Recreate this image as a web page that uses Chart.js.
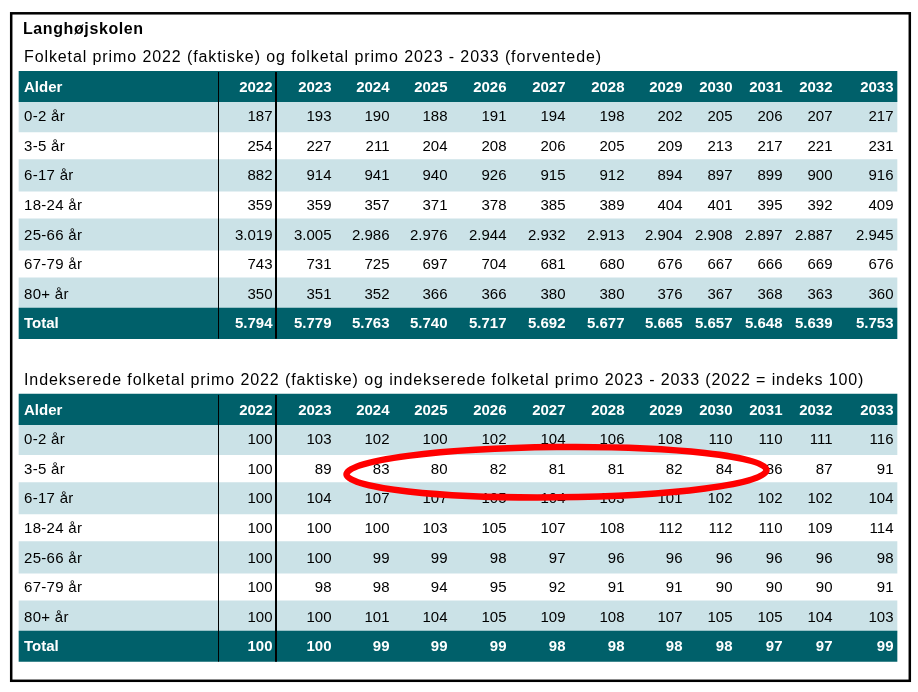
<!DOCTYPE html>
<html>
<head>
<meta charset="utf-8">
<script src="https://cdn.jsdelivr.net/npm/chart.js@4.4.1/dist/chart.umd.min.js"></script>
<style>
  html, body { margin: 0; padding: 0; background: #fff; }
  #box { position: relative; width: 918px; height: 692px; }
</style>
</head>
<body>
<div id="box"><canvas id="ctx" width="918" height="692"></canvas></div>
<script>
'use strict';

// ---- data ----
const schoolName = 'Langhøjskolen';
const title1 = 'Folketal primo 2022 (faktiske) og folketal primo 2023 - 2033 (forventede)';
const title2 = 'Indekserede folketal primo 2022 (faktiske) og indekserede folketal primo 2023 - 2033 (2022 = indeks 100)';
const headLabel = 'Alder';
const ageGroups = ['0-2 år', '3-5 år', '6-17 år', '18-24 år', '25-66 år', '67-79 år', '80+ år', 'Total'];
const years = ['2022', '2023', '2024', '2025', '2026', '2027', '2028', '2029', '2030', '2031', '2032', '2033'];

const pop0_2   = [187, 193, 190, 188, 191, 194, 198, 202, 205, 206, 207, 217];
const pop3_5   = [254, 227, 211, 204, 208, 206, 205, 209, 213, 217, 221, 231];
const pop6_17  = [882, 914, 941, 940, 926, 915, 912, 894, 897, 899, 900, 916];
const pop18_24 = [359, 359, 357, 371, 378, 385, 389, 404, 401, 395, 392, 409];
const pop25_66 = [3019, 3005, 2986, 2976, 2944, 2932, 2913, 2904, 2908, 2897, 2887, 2945];
const pop67_79 = [743, 731, 725, 697, 704, 681, 680, 676, 667, 666, 669, 676];
const pop80    = [350, 351, 352, 366, 366, 380, 380, 376, 367, 368, 363, 360];
const popTotal = [5794, 5779, 5763, 5740, 5717, 5692, 5677, 5665, 5657, 5648, 5639, 5753];

const idx0_2   = [100, 103, 102, 100, 102, 104, 106, 108, 110, 110, 111, 116];
const idx3_5   = [100, 89, 83, 80, 82, 81, 81, 82, 84, 86, 87, 91];
const idx6_17  = [100, 104, 107, 107, 105, 104, 103, 101, 102, 102, 102, 104];
const idx18_24 = [100, 100, 100, 103, 105, 107, 108, 112, 112, 110, 109, 114];
const idx25_66 = [100, 100, 99, 99, 98, 97, 96, 96, 96, 96, 96, 98];
const idx67_79 = [100, 98, 98, 94, 95, 92, 91, 91, 90, 90, 90, 91];
const idx80    = [100, 100, 101, 104, 105, 109, 108, 107, 105, 105, 104, 103];
const idxTotal = [100, 100, 99, 99, 99, 98, 98, 98, 98, 97, 97, 99];

const popRows = [pop0_2, pop3_5, pop6_17, pop18_24, pop25_66, pop67_79, pop80, popTotal];
const idxRows = [idx0_2, idx3_5, idx6_17, idx18_24, idx25_66, idx67_79, idx80, idxTotal];

// ---- layout (x in table units from the table's left edge, y in rows) ----
const colEdges = [0, 199, 257, 316, 374, 432, 491, 550, 609, 667, 717, 767, 817, 878];
const tableLeft = 19;
const rowPx = 29.6;
const firstRowPx = 86.5;
const table1Top = 0;
const table2Top = 10.91;

const DARK = '#00606a';
const LIGHT = '#cbe2e7';
const FONT = '"Liberation Sans", Arial, Helvetica, sans-serif';

function fmt(n) {
  return String(n).replace(/\B(?=(\d{3})+(?!\d))/g, '.');
}

// background bands for every row, built from the table positions
function bands(top, which) {
  const out = [];
  const tableWidth = colEdges[colEdges.length - 1];
  if (which === 'dark') {
    out.push({x: [0, tableWidth], y: top});
    out.push({x: [0, tableWidth], y: top + ageGroups.length});
  } else {
    for (let i = 0; i < ageGroups.length - 1; i += 2) {
      out.push({x: [0, tableWidth], y: top + 1 + i});
    }
  }
  return out;
}

const tablePlugin = {
  id: 'tableText',
  beforeDraw(chart) {
    const ctx = chart.ctx;
    ctx.save();
    ctx.strokeStyle = '#000';
    ctx.lineWidth = 2.5;
    ctx.strokeRect(11.2, 13.3, 898.6, 667.5);
    ctx.restore();
  },
  afterDatasetsDraw(chart) {
    const {ctx, scales: {x, y}} = chart;
    ctx.save();

    const drawTable = (top, subtitle, rows) => {
      // column dividers
      ctx.strokeStyle = '#000';
      const yTop = y.getPixelForValue(top - 0.49);
      const yBot = y.getPixelForValue(top + ageGroups.length + 0.52);
      [[colEdges[1], 1], [colEdges[2], 2]].forEach(([edge, w]) => {
        const px = Math.round(x.getPixelForValue(edge)) + (w === 1 ? 0.5 : 0);
        ctx.lineWidth = w;
        ctx.beginPath();
        ctx.moveTo(px, yTop);
        ctx.lineTo(px, yBot);
        ctx.stroke();
      });

      ctx.textBaseline = 'middle';
      // subtitle
      ctx.fillStyle = '#000';
      ctx.textAlign = 'left';
      ctx.font = '16px ' + FONT;
      ctx.letterSpacing = '0.9px';
      ctx.fillText(subtitle, x.getPixelForValue(5), y.getPixelForValue(top - 0.96));
      ctx.letterSpacing = '0px';

      // header row
      ctx.fillStyle = '#fff';
      ctx.font = 'bold 15px ' + FONT;
      const hy = y.getPixelForValue(top) + 1;
      ctx.fillText(headLabel, x.getPixelForValue(5), hy);
      ctx.textAlign = 'right';
      years.forEach((yr, j) => ctx.fillText(yr, x.getPixelForValue(colEdges[j + 2] - 3.5), hy));

      // body rows
      rows.forEach((vals, i) => {
        const isTotal = i === rows.length - 1;
        const ry = y.getPixelForValue(top + 1 + i) + 1;
        ctx.fillStyle = isTotal ? '#fff' : '#000';
        ctx.font = (isTotal ? 'bold ' : '') + '15px ' + FONT;
        ctx.textAlign = 'left';
        ctx.letterSpacing = isTotal ? '0px' : '0.3px';
        ctx.fillText(ageGroups[i], x.getPixelForValue(5), ry);
        ctx.letterSpacing = '0px';
        ctx.textAlign = 'right';
        vals.forEach((v, j) => ctx.fillText(fmt(v), x.getPixelForValue(colEdges[j + 2] - 3.5), ry));
      });
    };

    // school name
    ctx.fillStyle = '#000';
    ctx.textAlign = 'left';
    ctx.textBaseline = 'middle';
    ctx.font = 'bold 16px ' + FONT;
    ctx.letterSpacing = '0.6px';
    ctx.fillText(schoolName, x.getPixelForValue(4), y.getPixelForValue(table1Top - 1.91));
    ctx.letterSpacing = '0px';

    drawTable(table1Top, title1, popRows);
    drawTable(table2Top, title2, idxRows);

    // red ring around the 3-5 år index values 2024-2030
    const left = x.getPixelForValue(colEdges[3] + 11.5);
    const right = x.getPixelForValue(colEdges[10] + 30.5);
    const cx = (left + right) / 2;
    const cy = y.getPixelForValue(table2Top + 2 + 0.12);
    const ry = Math.abs(y.getPixelForValue(table2Top + 2 + 0.12 - 0.85) - cy);
    ctx.strokeStyle = '#f00';
    ctx.lineWidth = 6.5;
    ctx.beginPath();
    ctx.ellipse(cx, cy, (right - left) / 2, ry, -0.01, 0, Math.PI * 2);
    ctx.stroke();

    ctx.restore();
  }
};

const ctx = document.getElementById('ctx');
const chart = new Chart(ctx, {
  type: 'bar',
  data: {
    datasets: [
      {data: bands(table1Top, 'dark').concat(bands(table2Top, 'dark')), backgroundColor: DARK, barThickness: 30.5, grouped: false},
      {data: bands(table1Top, 'light').concat(bands(table2Top, 'light')), backgroundColor: LIGHT, barThickness: 31.5, grouped: false}
    ]
  },
  options: {
    indexAxis: 'y',
    responsive: false,
    animation: false,
    events: [],
    layout: {padding: 0},
    plugins: {legend: {display: false}, tooltip: {enabled: false}, title: {display: false}},
    scales: {
      x: {type: 'linear', display: false, min: -tableLeft, max: 918 - tableLeft, offset: false},
      y: {type: 'linear', display: false, reverse: true, offset: false,
          min: -firstRowPx / rowPx, max: (692 - firstRowPx) / rowPx}
    }
  },
  plugins: [tablePlugin]
});
</script>
</body>
</html>
